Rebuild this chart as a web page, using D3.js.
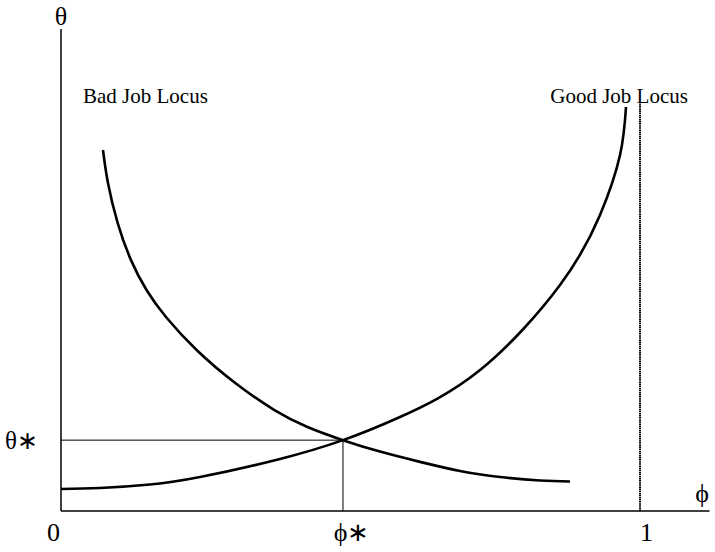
<!DOCTYPE html>
<html>
<head>
<meta charset="utf-8">
<script src="https://cdn.jsdelivr.net/npm/d3@7"></script>
<style>
  body { margin: 0; background: #fff; }
  text { font-family: "Liberation Serif", "Times New Roman", serif; fill: #000; }
</style>
</head>
<body>
<svg id="chart" width="715" height="552"></svg>
<script>
// equilibrium point
const PHI_STAR = 0.487,
      THETA_STAR = 0.147;

// bad job locus, [phi, theta]
const badLocus = [
    [0.0725, 0.749], [0.0812, 0.680], [0.0978, 0.598], [0.1207, 0.521],
    [0.1477, 0.4585], [0.1813, 0.4025], [0.2342, 0.334], [0.3009, 0.2656],
    [0.3686, 0.2095], [0.4257, 0.1743], [0.487, 0.147], [0.5509, 0.1232],
    [0.6200, 0.1019], [0.6891, 0.0830], [0.7582, 0.0705], [0.8273, 0.0633],
    [0.8791, 0.0612]
];

// good job locus, [phi, theta]
const goodLocus = [
    [0.0000, 0.0456], [0.0674, 0.0477], [0.1537, 0.0550], [0.2401, 0.0705],
    [0.3782, 0.1079], [0.487, 0.147], [0.5855, 0.1950], [0.7237, 0.2925],
    [0.8618, 0.4689], [0.9309, 0.6141], [0.9655, 0.7386], [0.9758, 0.8382]
];

const xTicks = [0, PHI_STAR, 1];
const xTickLabels = ["0", "\u03d5\u2217", "1"];
const xTickShift = [-8, 8, 6];
const curveLabels = ["Bad Job Locus", "Good Job Locus"];

const svg = d3.select("#chart");

// scales
// ----------------------------------------
const x = d3.scaleLinear().domain([0, 1.12]).range([61, 709.5]);
const y = d3.scaleLinear().domain([0, 1]).range([511, 29]);

const line = d3.line()
    .x(d => x(d[0]))
    .y(d => y(d[1]))
    .curve(d3.curveNatural);

// axes
// ----------------------------------------
const xAxis = svg.append("g")
    .attr("transform", `translate(0,${y(0)})`)
    .call(d3.axisBottom(x)
        .tickValues(xTicks)
        .tickFormat((d, i) => xTickLabels[i])
        .tickSize(0)
        .tickPadding(12));
xAxis.select(".domain").remove();
xAxis.selectAll("text")
    .attr("font-size", 26)
    .attr("font-family", "Liberation Serif, serif")
    .attr("dy", "0.71em")
    .attr("dx", (d, i) => xTickShift[i]);

const yAxis = svg.append("g")
    .attr("transform", `translate(${x(0)},0)`)
    .call(d3.axisLeft(y)
        .tickValues([THETA_STAR])
        .tickFormat(() => "\u03b8\u2217")
        .tickSize(0)
        .tickPadding(23));
yAxis.select(".domain").remove();
yAxis.selectAll("text")
    .attr("font-size", 25)
    .attr("font-family", "Liberation Serif, serif")
    .attr("dy", "0.32em");

svg.append("line")
    .attr("x1", x(0)).attr("x2", x(1.12))
    .attr("y1", y(0)).attr("y2", y(0))
    .attr("stroke", "#000").attr("stroke-width", 1.5);
svg.append("line")
    .attr("x1", x(0)).attr("x2", x(0))
    .attr("y1", y(0)).attr("y2", y(1))
    .attr("stroke", "#000").attr("stroke-width", 1.5);

svg.append("text")
    .attr("x", x(0)).attr("y", 25)
    .attr("text-anchor", "middle")
    .attr("font-size", 26)
    .text("\u03b8");
svg.append("text")
    .attr("x", x(1.107)).attr("y", 502)
    .attr("text-anchor", "middle")
    .attr("font-size", 26)
    .text("\u03d5");

// guide lines to the crossing
// ----------------------------------------
svg.append("path")
    .attr("d", `M${x(0)},${y(THETA_STAR)}H${x(PHI_STAR)}V${y(0)}`)
    .attr("fill", "none")
    .attr("stroke", "#000").attr("stroke-width", 1);

// phi = 1 boundary
svg.append("line")
    .attr("x1", x(1)).attr("x2", x(1))
    .attr("y1", y(0)).attr("y2", y(0.849))
    .attr("stroke", "#000").attr("stroke-width", 2)
    .attr("stroke-dasharray", "1.5,0.6");

// curves
// ----------------------------------------
[badLocus, goodLocus].forEach(d => {
    svg.append("path")
        .datum(d)
        .attr("d", line)
        .attr("fill", "none")
        .attr("stroke", "#000")
        .attr("stroke-width", 2.6);
});

svg.append("text")
    .attr("x", x(0.038)).attr("y", 103)
    .attr("font-size", 21)
    .text(curveLabels[0]);
svg.append("text")
    .attr("x", x(0.845)).attr("y", 103)
    .attr("font-size", 21)
    .text(curveLabels[1]);
</script>
</body>
</html>
